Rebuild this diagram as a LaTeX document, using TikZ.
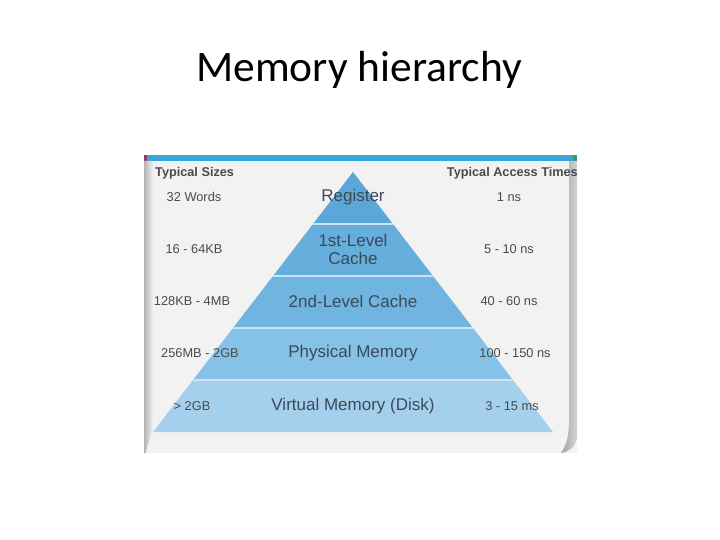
\documentclass[tikz,border=0pt]{standalone}
\usepackage{fontspec}
\setmainfont{Liberation Sans}
\newfontfamily\titlefont{Carlito}
\usetikzlibrary{calc}
\definecolor{panelgray}{HTML}{F2F2F2}
\definecolor{edgegray}{HTML}{B4B4B4}
\definecolor{edgedark}{HTML}{A2A2A2}
\definecolor{edgelight}{HTML}{D4D4D4}
\definecolor{topblue}{HTML}{39A6D9}
\definecolor{topmag}{HTML}{A0306E}
\definecolor{topgreen}{HTML}{3C9A5C}
\definecolor{layA}{HTML}{5BA7D7}
\definecolor{layB}{HTML}{66AEDB}
\definecolor{layC}{HTML}{70B5E0}
\definecolor{layD}{HTML}{86C1E7}
\definecolor{layE}{HTML}{A4D0EE}
\definecolor{sepblue}{HTML}{C9E3F4}
\definecolor{sidetext}{HTML}{4A4A4A}
\definecolor{levtext}{HTML}{3B4A57}
\tikzset{every node/.append style={inner sep=0pt}}

\begin{document}
\begin{tikzpicture}[x=1pt, y=-1pt,
    side/.style={font=\fontsize{12.8}{14}\selectfont, text=sidetext},
    head/.style={font=\bfseries\fontsize{12.7}{14}\selectfont, text=sidetext},
    level/.style={font=\fontsize{17}{18}\selectfont, text=levtext, align=center}]
    \useasboundingbox (0,0) rectangle (720,540);
    % slide title
    \node[font=\titlefont\fontsize{43.5}{48}\selectfont, anchor=base] (title) at (359,82) {Memory hierarchy};
    % panel with its edges
    \fill[panelgray] (144,155) rectangle (577,453);
    \fill[topblue] (147,155) rectangle (573,161);
    \fill[topmag] (144,155) rectangle (147,161);
    \fill[topgreen] (573,155) rectangle (577,161);
    \shade[left color=edgegray, right color=panelgray] (144,161) -- (153,161) -- (153,428)
        .. controls (150,438) and (147,446) .. (146,453) -- (144,453) -- cycle;
    \shade[left color=edgedark, right color=edgelight] (569,161) -- (577,161) -- (577,438)
        .. controls (575,447) and (569,452) .. (561,453)
        .. controls (566,446) and (569,436) .. (569,422) -- cycle;
    % pyramid layers
    \foreach \k/\c in {0/layA,1/layB,2/layC,3/layD,4/layE} {
        \pgfmathsetmacro{\ya}{172+52*\k}
        \pgfmathsetmacro{\yb}{\ya+52}
        \pgfmathsetmacro{\wa}{(\ya-172)/260*200}
        \pgfmathsetmacro{\wb}{(\yb-172)/260*200}
        \fill[\c] (353-\wa,\ya) -- (353+\wa,\ya) -- (353+\wb,\yb) -- (353-\wb,\yb) -- cycle;
        \ifnum\k>0
            \draw[sepblue, line width=1.6pt] (353-\wa,\ya) -- (353+\wa,\ya);
        \fi
    }
    % column heads
    \node[head, anchor=west] (sizes) at (155,173) {Typical Sizes};
    \node[head, anchor=east] (times) at (578,173) {Typical Access Times};
    % levels
    \node[level] (reg) at (353,197) {Register};
    \node[level] (lone) at (353,249) {1st-Level\\Cache};
    \node[level] (ltwo) at (353,301) {2nd-Level Cache};
    \node[level] (phys) at (353,353) {Physical Memory};
    \node[level] (virt) at (353,406) {Virtual Memory (Disk)};
    % sizes
    \node[side] (szA) at (194,197) {32 Words};
    \node[side] (szB) at (194,249) {16 - 64KB};
    \node[side] (szC) at (192,301) {128KB - 4MB};
    \node[side] (szD) at (200,353) {256MB - 2GB};
    \node[side] (szE) at (192,406) {> 2GB};
    % access times
    \node[side] (tmA) at (509,197) {1 ns};
    \node[side] (tmB) at (509,249) {5 - 10 ns};
    \node[side] (tmC) at (509,301) {40 - 60 ns};
    \node[side] (tmD) at (515,353) {100 - 150 ns};
    \node[side] (tmE) at (512,406) {3 - 15 ms};
\end{tikzpicture}
\end{document}
